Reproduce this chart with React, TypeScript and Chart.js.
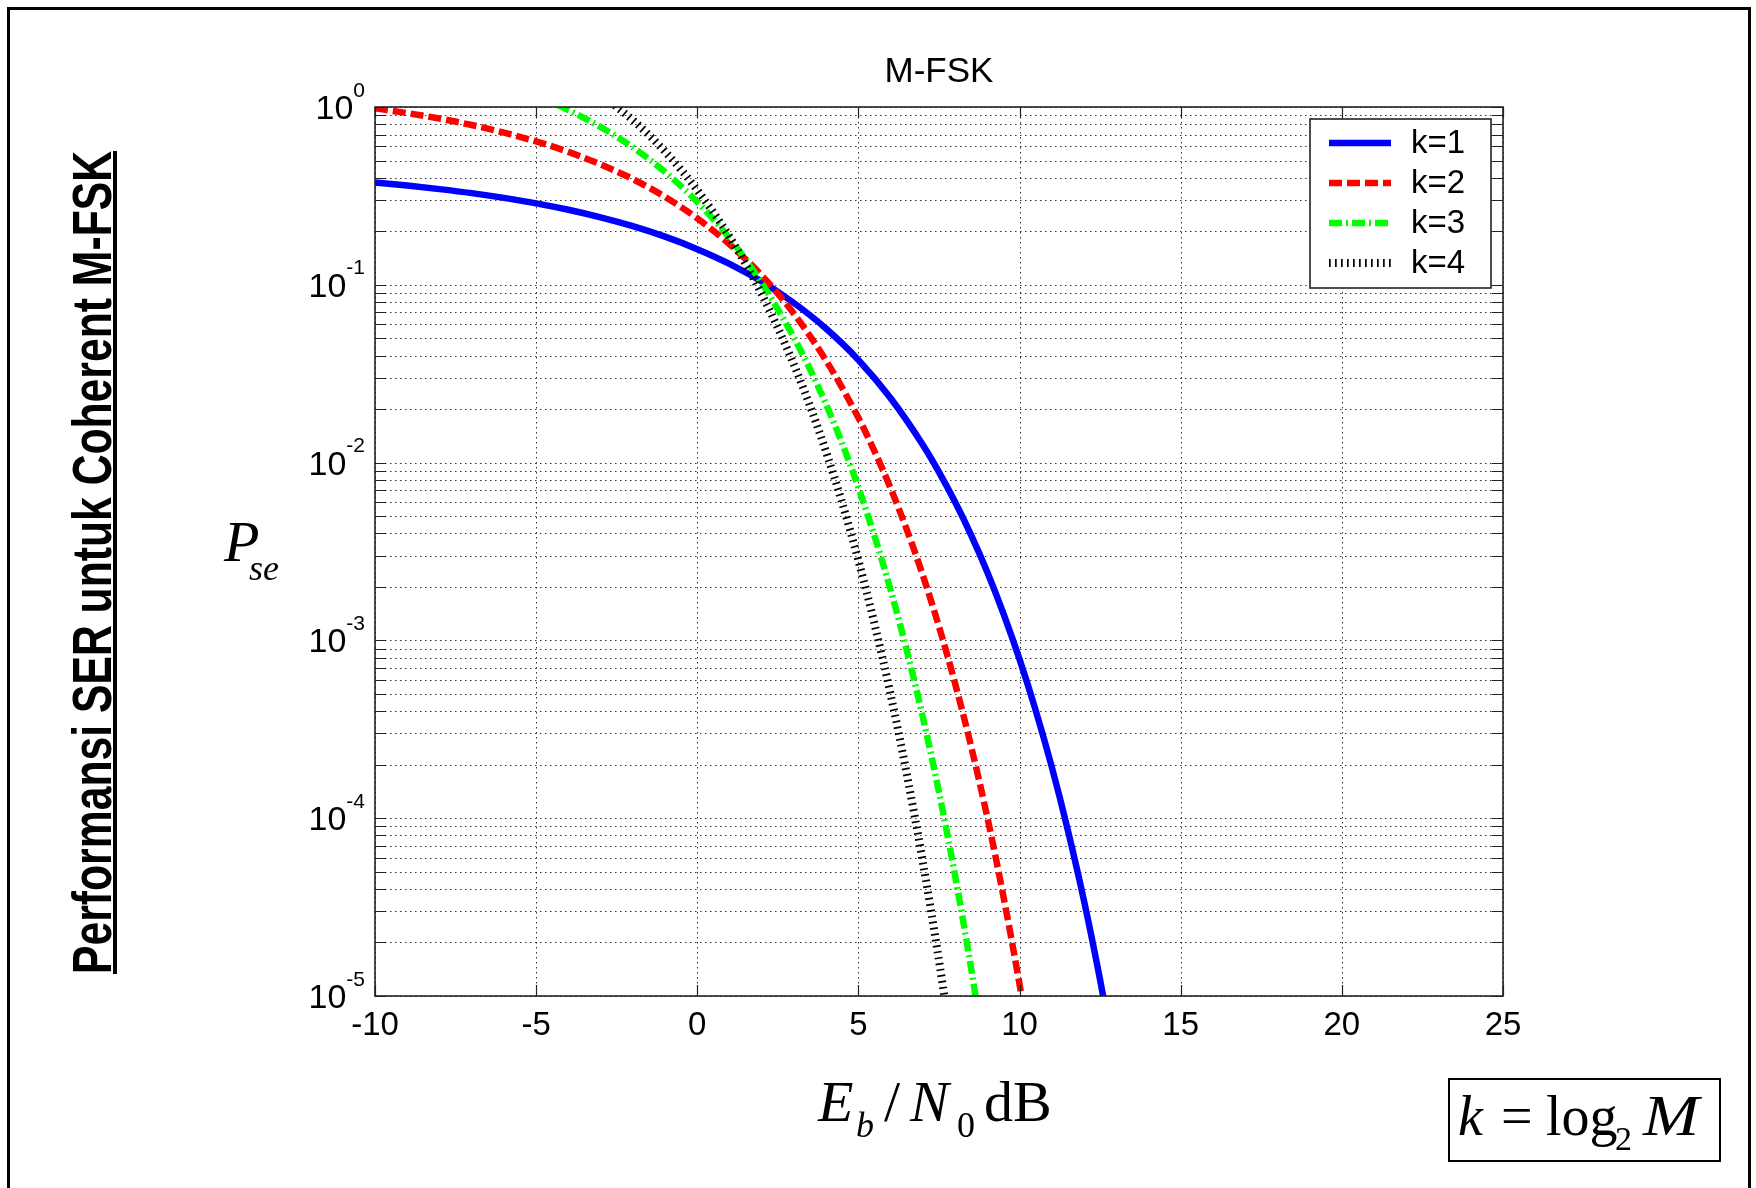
import React, { useEffect, useRef } from 'react';
import { Chart, registerables } from 'chart.js';

Chart.register(...registerables);

// ---------- data ----------
const SERIES_LABELS = ['k=1', 'k=2', 'k=3', 'k=4'];

const EBN0_K1 = [-10, -9, -8, -7, -6, -5, -4, -3, -2, -1, 0, 1, 2, 3, 4, 5, 6, 7, 7.5, 8, 8.5, 9, 9.5, 10, 10.5, 11, 11.5, 12, 12.5, 13];
const SER_K1 = [0.376, 0.3616, 0.3453, 0.3277, 0.3081, 0.2872, 0.2643, 0.2396, 0.2136, 0.1865, 0.1587, 0.1312, 0.1043, 0.079, 0.0566, 0.0378, 0.023, 0.01257, 0.00885, 0.006, 0.0039, 0.00242, 0.001415, 0.000782, 0.000404, 0.000194, 8.54e-5, 3.43e-5, 1.23e-5, 3.97e-6];

const EBN0_K2 = [-10, -9, -8, -7, -6, -5, -4, -3, -2, -1, 0, 1, 2, 3, 4, 5, 5.5, 6, 6.5, 7, 7.5, 8, 8.5, 9, 9.5, 10, 10.5];
const SER_K2 = [0.983, 0.924, 0.861, 0.792, 0.718, 0.64, 0.559, 0.475, 0.393, 0.312, 0.2365, 0.169, 0.1128, 0.0687, 0.0374, 0.01785, 0.01158, 0.00717, 0.0042, 0.00232, 0.001195, 0.000572, 0.000252, 0.000101, 3.62e-5, 1.16e-5, 3.25e-6];

const EBN0_K3 = [-5, -4, -3, -2, -1, 0, 1, 2, 3, 3.5, 4, 4.5, 5, 5.5, 6, 6.5, 7, 7.5, 8, 8.5, 9];
const SER_K3 = [1.157, 0.961, 0.772, 0.593, 0.431, 0.2926, 0.1829, 0.1021, 0.0504, 0.03344, 0.02118, 0.01276, 0.00724, 0.003857, 0.001918, 0.000881, 0.000369, 0.00014, 4.74e-5, 1.42e-5, 3.68e-6];

const EBN0_K4 = [-3, -2.5, -2, -1.5, -1, -0.5, 0, 1, 2, 3, 3.5, 4, 4.5, 5, 5.5, 6, 6.5, 7, 7.5, 8];
const SER_K4 = [1.179, 1.002, 0.843, 0.696, 0.561, 0.443, 0.341, 0.186, 0.0885, 0.0355, 0.02076, 0.01143, 0.0059, 0.002814, 0.001236, 0.000495, 0.000177, 5.66e-5, 1.58e-5, 3.8e-6];

const X_TICKS = [-10, -5, 0, 5, 10, 15, 20, 25];
const Y_TICK_VALUES = [1, 0.1, 0.01, 0.001, 0.0001, 0.00001];
const Y_TICK_EXPONENTS = ['0', '-1', '-2', '-3', '-4', '-5'];
const Y_MINOR_MULTIPLIERS = [1, 2, 3, 4, 5, 6, 7, 8, 9];

const CHART_TITLE = 'M-FSK';
const LEFT_TITLE = 'Performansi SER untuk Coherent M-FSK';

// ---------- styles ----------
const SANS = '"Liberation Sans", Arial, Helvetica, sans-serif';
const SERIF = '"Liberation Serif", "Times New Roman", Times, serif';

const SERIES_STYLE = [
  { color: '#0000FF', width: 6.5, dash: [] as number[] },
  { color: '#FF0000', width: 6.5, dash: [13, 5] },
  { color: '#00FF00', width: 6.5, dash: [13, 4, 2, 4] },
  { color: '#000000', width: 8, dash: [1.7, 4.3] },
];

const decorPlugin = {
  id: 'decor',
  beforeDatasetsDraw(chart: any) {
    const { ctx, chartArea: a, scales } = chart;
    ctx.save();
    ctx.strokeStyle = 'rgba(0,0,0,0.8)';
    ctx.lineWidth = 1;
    ctx.setLineDash([1.5, 3.5]);
    for (const t of scales.x.ticks) {
      const px = Math.round(scales.x.getPixelForValue(t.value)) + 0.5;
      ctx.beginPath();
      ctx.moveTo(px, a.top);
      ctx.lineTo(px, a.bottom);
      ctx.stroke();
    }
    for (const t of scales.y.ticks) {
      const py = Math.round(scales.y.getPixelForValue(t.value)) + 0.5;
      ctx.beginPath();
      ctx.moveTo(a.left, py);
      ctx.lineTo(a.right, py);
      ctx.stroke();
    }
    ctx.restore();
  },
  afterDatasetsDraw(chart: any) {
    const { ctx, chartArea: a, scales } = chart;
    ctx.save();
    // inner tick marks
    ctx.setLineDash([]);
    ctx.strokeStyle = '#222';
    ctx.lineWidth = 1.2;
    const TL = 11;
    for (const t of scales.x.ticks) {
      const px = Math.round(scales.x.getPixelForValue(t.value)) + 0.5;
      ctx.beginPath();
      ctx.moveTo(px, a.bottom);
      ctx.lineTo(px, a.bottom - TL);
      ctx.moveTo(px, a.top);
      ctx.lineTo(px, a.top + TL);
      ctx.stroke();
    }
    for (const t of scales.y.ticks) {
      const py = Math.round(scales.y.getPixelForValue(t.value)) + 0.5;
      ctx.beginPath();
      ctx.moveTo(a.left, py);
      ctx.lineTo(a.left + TL, py);
      ctx.moveTo(a.right, py);
      ctx.lineTo(a.right - TL, py);
      ctx.stroke();
    }
    // axes box
    ctx.lineWidth = 1.6;
    ctx.strokeRect(a.left, a.top, a.right - a.left, a.bottom - a.top);

    // y tick labels 10^n
    ctx.fillStyle = '#000';
    ctx.textBaseline = 'alphabetic';
    ctx.textAlign = 'right';
    Y_TICK_VALUES.forEach((v, i) => {
      const py = scales.y.getPixelForValue(v);
      ctx.font = `21px ${SANS}`;
      const exp = Y_TICK_EXPONENTS[i];
      const ew = ctx.measureText(exp).width;
      ctx.fillText(exp, a.left - 10, py - 10.5);
      ctx.font = `34px ${SANS}`;
      ctx.fillText('10', a.left - 10 - ew, py + 12);
    });

    // title
    ctx.textAlign = 'center';
    ctx.font = `35px ${SANS}`;
    ctx.fillText(CHART_TITLE, (a.left + a.right) / 2, a.top - 25);

    // legend
    const lx = a.right - 193;
    const ly = a.top + 12;
    const lw = 181;
    const lh = 169;
    ctx.fillStyle = '#fff';
    ctx.fillRect(lx, ly, lw, lh);
    ctx.strokeStyle = '#222';
    ctx.lineWidth = 1.6;
    ctx.strokeRect(lx, ly, lw, lh);
    chart.data.datasets.forEach((ds: any, i: number) => {
      const ry = ly + 24 + i * 40;
      ctx.save();
      ctx.strokeStyle = ds.borderColor;
      ctx.lineWidth = ds.borderWidth;
      ctx.setLineDash(ds.borderDash || []);
      ctx.lineCap = 'butt';
      ctx.beginPath();
      ctx.moveTo(lx + 19, ry);
      ctx.lineTo(lx + 81, ry);
      ctx.stroke();
      ctx.restore();
      ctx.fillStyle = '#000';
      ctx.textAlign = 'left';
      ctx.textBaseline = 'middle';
      ctx.font = `33px ${SANS}`;
      ctx.fillText(ds.label, lx + 101, ry + 1);
    });
    ctx.restore();
  },
};

function measureWidth(text: string, font: string): number {
  const c = document.createElement('canvas').getContext('2d');
  if (!c) return text.length * 20;
  c.font = font;
  return c.measureText(text).width;
}

type TProps = { x: number; y: number; size: number; italic?: boolean; serif?: boolean; sx?: number; children: React.ReactNode };
function T({ x, y, size, italic, serif = true, sx, children }: TProps) {
  const asc = serif ? 0.8375 : 0.8466;
  return (
    <div
      style={{
        position: 'absolute',
        left: x,
        top: y - asc * size,
        fontSize: size,
        lineHeight: `${size}px`,
        fontStyle: italic ? 'italic' : 'normal',
        fontFamily: serif ? SERIF : SANS,
        whiteSpace: 'nowrap',
        color: '#000',
        transformOrigin: '0 0',
        transform: sx ? `scaleX(${sx})` : undefined,
      }}
    >
      {children}
    </div>
  );
}

export default function App() {
  const canvasRef = useRef<HTMLCanvasElement | null>(null);

  useEffect(() => {
    const canvas = canvasRef.current;
    if (!canvas) return;
    const xsList = [EBN0_K1, EBN0_K2, EBN0_K3, EBN0_K4];
    const ysList = [SER_K1, SER_K2, SER_K3, SER_K4];
    const datasets = SERIES_LABELS.map((label, i) => ({
      label,
      data: xsList[i].map((x, j) => ({ x, y: ysList[i][j] })),
      borderColor: SERIES_STYLE[i].color,
      backgroundColor: SERIES_STYLE[i].color,
      borderWidth: SERIES_STYLE[i].width,
      borderDash: SERIES_STYLE[i].dash,
      borderCapStyle: 'butt' as const,
      borderJoinStyle: 'round' as const,
      pointRadius: 0,
      fill: false,
      cubicInterpolationMode: 'monotone' as const,
      clip: 0,
      order: 4 - i,
    }));

    const chart = new Chart(canvas, {
      type: 'line',
      data: { datasets },
      options: {
        responsive: false,
        animation: false,
        devicePixelRatio: 1,
        events: [],
        layout: { padding: { left: 325, right: 253, top: 107, bottom: 132 } },
        plugins: {
          legend: { display: false },
          tooltip: { enabled: false },
          title: { display: false },
        },
        scales: {
          x: {
            type: 'linear',
            min: -10,
            max: 25,
            afterBuildTicks: (s: any) => {
              s.ticks = X_TICKS.map((value) => ({ value }));
            },
            afterFit: (s: any) => {
              s.height = 60;
            },
            grid: { display: false, drawTicks: false },
            border: { display: false },
            ticks: {
              autoSkip: false,
              maxRotation: 0,
              padding: 10,
              color: '#000',
              font: { family: SANS, size: 33 },
              callback: (v: any) => String(v),
            },
          },
          y: {
            type: 'logarithmic',
            min: 1e-5,
            max: 1,
            afterBuildTicks: (s: any) => {
              const ticks: { value: number }[] = [];
              Y_TICK_VALUES.slice().reverse().forEach((dec) => {
                if (dec >= 1) {
                  ticks.push({ value: dec });
                  return;
                }
                Y_MINOR_MULTIPLIERS.forEach((m) => ticks.push({ value: m * dec }));
              });
              s.ticks = ticks;
            },
            afterFit: (s: any) => {
              s.width = 50;
            },
            grid: { display: false, drawTicks: false },
            border: { display: false },
            ticks: { display: false },
          },
        },
      },
      plugins: [decorPlugin],
    });
    return () => chart.destroy();
  }, []);

  const titleSize = 55;
  const titleFont = `bold ${titleSize}px ${SANS}`;
  const titleW = measureWidth(LEFT_TITLE, titleFont);
  const titleScale = 823 / titleW;

  return (
    <div
      style={{
        position: 'absolute',
        left: 0,
        top: 0,
        width: 1756,
        height: 1188,
        overflow: 'hidden',
        background: '#fff',
      }}
    >
      <canvas ref={canvasRef} width={1756} height={1188} style={{ position: 'absolute', left: 0, top: 0, width: 1756, height: 1188 }} />
      {/* outer frame */}
      <div
        style={{
          position: 'absolute',
          left: 7,
          top: 7,
          width: 1744,
          height: 1300,
          boxSizing: 'border-box',
          borderLeft: '3px solid #000',
          borderTop: '3px solid #000',
          borderRight: '3px solid #000',
        }}
      />
      {/* left rotated title */}
      <div
        style={{
          position: 'absolute',
          left: 112 - 0.8466 * titleSize,
          top: 974,
          transformOrigin: '0 0',
          transform: `rotate(-90deg) scaleX(${titleScale})`,
          font: titleFont,
          lineHeight: `${titleSize}px`,
          whiteSpace: 'nowrap',
          color: '#000',
        }}
      >
        {LEFT_TITLE}
      </div>
      <div style={{ position: 'absolute', left: 113, top: 151, width: 4, height: 823, background: '#000' }} />

      {/* y-axis label P_se */}
      <T x={224} y={562} size={58} italic>P</T>
      <T x={249} y={580} size={36} italic>se</T>

      {/* x-axis label Eb / N0 dB */}
      <T x={818} y={1122} size={58} italic>E</T>
      <T x={856} y={1137} size={36} italic>b</T>
      <T x={884} y={1122} size={58}>/</T>
      <T x={910} y={1122} size={58} italic>N</T>
      <T x={957} y={1137} size={36}>0</T>
      <T x={984} y={1122} size={58}>dB</T>

      {/* k = log2 M box */}
      <div
        style={{
          position: 'absolute',
          left: 1448,
          top: 1078,
          width: 273,
          height: 84,
          boxSizing: 'border-box',
          border: '2px solid #000',
        }}
      />
      <T x={1458} y={1135} size={56} italic>k</T>
      <T x={1501} y={1135} size={56}>=</T>
      <T x={1546} y={1135} size={56}>log</T>
      <T x={1615} y={1150} size={34}>2</T>
      <T x={1643} y={1135} size={56} italic sx={1.2}>M</T>
    </div>
  );
}
